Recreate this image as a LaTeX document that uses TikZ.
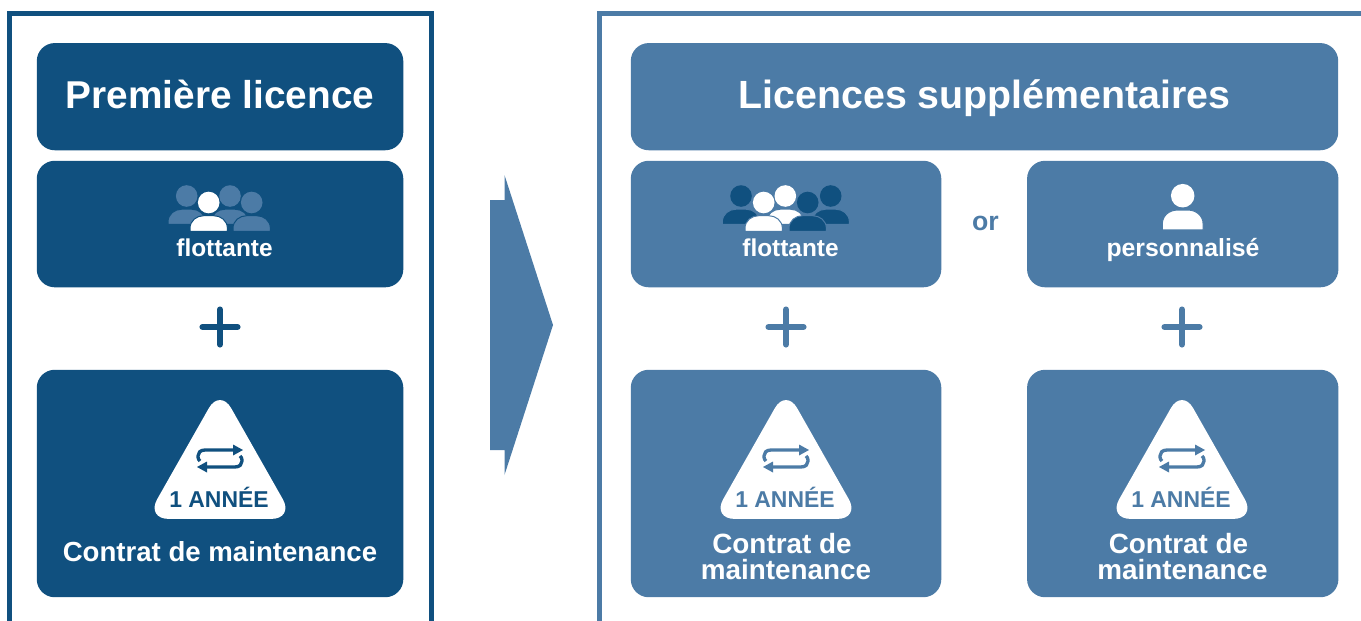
\documentclass[tikz,border=0pt]{standalone}
\usepackage{fontspec}
\setmainfont{Liberation Sans}
\definecolor{dk}{HTML}{10507F}
\definecolor{lt}{HTML}{4C7BA6}
\newcommand{\PersonIcon}[6]{% x, y head centre, scale, fill, outline, body bottom
  \begin{scope}[shift={(#1,#2)},x=#3*.75pt,y=-#3*.75pt]
    \fill[#4,draw=#5,line width=.75pt] (-18.7,#6) -- (-18.7,26) .. controls (-18.7,18) and (-12,13.2) .. (-5,13.2) -- (5,13.2) .. controls (12,13.2) and (18.7,18) .. (18.7,26) -- (18.7,#6) -- cycle;
    \fill[#4] (0,0) circle (10.8);
  \end{scope}}
\newcommand{\CycleTri}[3]{% x, name, colour
  \begin{scope}[shift={(#1,0)}]
    \fill[white,rounded corners=17pt] (0,388.5) -- (74,518.9) -- (-74,518.9) -- cycle;
    \draw[#3,line width=2.5pt] (13,450) -- (-15,450) .. controls (-20,450) and (-22,453) .. (-22,456) -- (-22,457) .. controls (-22,459) and (-21,460) .. (-20,461);
    \fill[#3] (13,444.5) -- (23,450) -- (13,455.5) -- cycle;
    \draw[#3,line width=2.5pt] (-13,467) -- (15,467) .. controls (20,467) and (22,464) .. (22,461) -- (22,460) .. controls (22,458) and (21,457) .. (20,456);
    \fill[#3] (-13,461.5) -- (-23,467) -- (-13,472.5) -- cycle;
    \node[anchor=base,text=#3,font=\fontsize{17.2pt}{19pt}\selectfont\bfseries,inner sep=0pt] (#2) at (-1,507.5) {1 ANNÉE};
  \end{scope}}
\tikzset{
  panel/.style={rounded corners=13.5pt,inner sep=0pt,anchor=north west},
  dkp/.style={panel,fill=dk},
  ltp/.style={panel,fill=lt},
  lab/.style={anchor=base,text=white,inner sep=0pt,font=\bfseries},
  plusline/.style={line width=4.6pt,line cap=round},
  frameline/.style={line width=3.75pt}
}
\begin{document}
\begin{tikzpicture}[x=.75pt,y=-.75pt]
\useasboundingbox (0,0) rectangle (1361,621);
% frames
\coordinate (fa) at (9.5,621); \coordinate (fb) at (9.5,13.5); \coordinate (fc) at (431.5,13.5); \coordinate (fd) at (431.5,621);
\draw[frameline,dk] (fa) -- (fb) -- (fc) -- (fd);
\coordinate (ga) at (599.5,621); \coordinate (gb) at (599.5,13.5); \coordinate (gc) at (1361,13.5);
\draw[frameline,lt] (ga) -- (gb) -- (gc);
% panels
\node[dkp,minimum width=274.9pt,minimum height=80.4pt] (t1) at (36.5,42.8) {};
\node[dkp,minimum width=274.9pt,minimum height=94.9pt] (f1) at (36.5,160.5) {};
\node[dkp,minimum width=274.9pt,minimum height=170.6pt] (m1) at (36.5,369.5) {};
\node[ltp,minimum width=530.6pt,minimum height=80.4pt] (t2) at (630.5,42.8) {};
\node[ltp,minimum width=232.9pt,minimum height=94.9pt] (f2) at (630.5,160.5) {};
\node[ltp,minimum width=233.5pt,minimum height=94.9pt] (p2) at (1026.8,160.5) {};
\node[ltp,minimum width=232.9pt,minimum height=170.6pt] (m2) at (630.5,369.5) {};
\node[ltp,minimum width=233.5pt,minimum height=170.6pt] (m3) at (1026.8,369.5) {};
% titles
\node[lab,font=\fontsize{29.1pt}{32pt}\selectfont\bfseries] (tt1) at (220,108) {Première licence};
\node[lab,font=\fontsize{29.5pt}{32pt}\selectfont\bfseries] (tt2) at (984.5,108) {Licences supplémentaires};
% people, left
\PersonIcon{186.7}{196}{1}{lt}{dk}{28.3}
\PersonIcon{230}{196}{1}{lt}{dk}{28.3}
\PersonIcon{251.7}{202.5}{1}{lt}{dk}{28.8}
\PersonIcon{208.7}{202.5}{1}{white}{dk}{28.8}
\node[lab,font=\fontsize{18.3pt}{20pt}\selectfont\bfseries] (fl1) at (224.5,256.5) {flottante};
% people, right
\PersonIcon{741}{196}{1}{dk}{lt}{28.3}
\PersonIcon{830.7}{196}{1}{dk}{lt}{28.3}
\PersonIcon{785.3}{196}{1}{white}{lt}{28.3}
\PersonIcon{763.7}{202.5}{1}{white}{lt}{28.8}
\PersonIcon{807.7}{202.5}{1}{dk}{lt}{28.8}
\node[lab,font=\fontsize{18.3pt}{20pt}\selectfont\bfseries] (fl2) at (790.5,256.5) {flottante};
\PersonIcon{1182.7}{195.7}{1.09}{white}{lt}{31.4}
\node[lab,font=\fontsize{18.6pt}{20pt}\selectfont\bfseries] (pe) at (1183,256.5) {personnalisé};
\node[anchor=base,text=lt,inner sep=0pt,font=\fontsize{20pt}{22pt}\selectfont\bfseries] (or) at (985.5,230) {or};
% plus signs
\foreach \cx in {220,786,1182}{
  \ifnum\cx=220 \def\pc{dk}\else\def\pc{lt}\fi
  \draw[plusline,\pc] (\cx-17.5,327) -- (\cx+17.5,327);
  \draw[plusline,\pc] (\cx,309.5) -- (\cx,344.5);
}
% triangles
\CycleTri{220}{y1}{dk}
\CycleTri{786}{y2}{lt}
\CycleTri{1182}{y3}{lt}
% maintenance
\node[lab,font=\fontsize{20.7pt}{23pt}\selectfont\bfseries] (c1) at (220,561) {Contrat de maintenance};
\node[lab,font=\fontsize{20.9pt}{23pt}\selectfont\bfseries] (c2) at (782,553) {Contrat de};
\node[lab,font=\fontsize{20.9pt}{23pt}\selectfont\bfseries] (c2b) at (786,579) {maintenance};
\node[lab,font=\fontsize{20.9pt}{23pt}\selectfont\bfseries] (c3) at (1178.5,553) {Contrat de};
\node[lab,font=\fontsize{20.9pt}{23pt}\selectfont\bfseries] (c3b) at (1182.5,579) {maintenance};
% big arrow
\fill[lt] (490,200) -- (504.5,200) -- (504.5,175) -- (553,325) -- (504.5,475) -- (504.5,450) -- (490,450) -- cycle;
\end{tikzpicture}
\end{document}
